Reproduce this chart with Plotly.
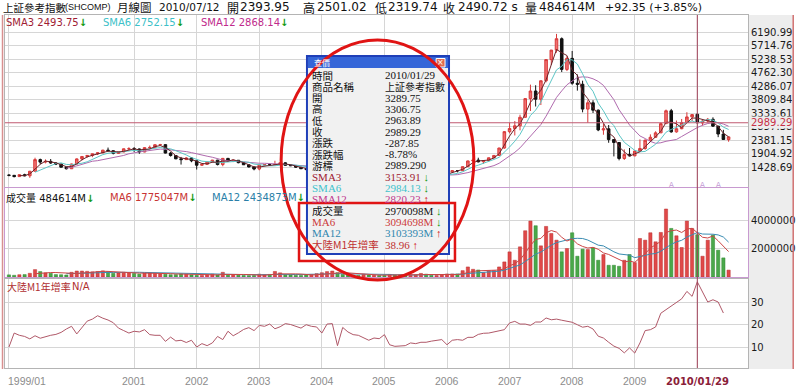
import plotly.graph_objects as go

# ---------------- data (monthly, 1999/01 .. 2010/07) ----------------
open_ = [1144,1134,1090,1158,1120,1279,1689,1601,1627,1569,1534,1421,
         1367,1535,1714,1800,1836,1894,1928,2023,2002,1910,1961,2070,
         2073,2065,1959,2112,2119,2214,2218,1920,1834,1717,1689,1747,
         1646,1491,1524,1603,1671,1515,1732,1651,1667,1581,1507,1430,
         1357,1499,1511,1510,1521,1576,1487,1476,1421,1367,1348,1397,
         1497,1590,1675,1742,1595,1555,1399,1386,1342,1396,1320,1340,
         1266,1191,1306,1181,1159,1060,1080,1083,1162,1155,1092,1099,
         1161,1258,1299,1298,1440,1642,1672,1612,1658,1752,1837,2099,
         2675,2786,2881,3183,3841,4109,3820,4471,5218,5552,5954,4871,
         5261,4383,4348,3472,3693,3433,2736,2775,2397,2293,1729,1871,
         1821,1991,2082,2373,2477,2633,2959,3412,2668,2779,2996,3195,
         3289.75,2982,3051,3110,2870,2593,2393.95]
high = [1166,1148,1163,1191,1290,1756,1724,1696,1710,1599,1541,1434,
        1545,1734,1808,1840,1899,1940,2033,2114,2018,1975,2080,2125,
        2131,2080,2128,2186,2230,2245,2226,1958,1848,1784,1776,1774,
        1651,1532,1614,1680,1681,1748,1749,1690,1672,1590,1515,1439,
        1512,1515,1548,1649,1579,1597,1531,1481,1428,1378,1411,1500,
        1600,1702,1760,1783,1620,1560,1415,1410,1496,1421,1375,1352,
        1268,1328,1316,1242,1163,1146,1087,1180,1224,1156,1114,1164,
        1267,1306,1304,1445,1655,1757,1757,1648,1762,1842,2105,2698,
        2994,3049,3274,3847,4335,4312,4480,5219,5560,6124,5999,5336,
        5522,4695,4473,3786,3786,3457,2952,2909,2400,2300,2051,2100,
        2012,2402,2403,2579,2689,2996,3455,3478,3068,3123,3361,3295,
        3306.75,3094,3158,3181,2877,2740,2501.02]
low = [1101,1064,1081,1102,1047,1270,1527,1556,1540,1496,1416,1341,
       1361,1526,1660,1760,1775,1852,1916,1993,1874,1892,1948,2020,
       1960,1893,1950,2065,2115,2180,1907,1795,1705,1514,1676,1597,
       1339,1466,1510,1580,1485,1455,1630,1600,1560,1500,1412,1311,
       1312,1476,1483,1507,1497,1472,1459,1393,1358,1307,1316,1387,
       1491,1585,1647,1580,1527,1395,1342,1328,1301,1313,1299,1259,
       1177,1186,1171,1135,1043,998,1004,1078,1140,1067,1074,1097,
       1153,1234,1238,1287,1436,1586,1589,1541,1629,1730,1833,2070,
       2617,2541,2723,3163,3404,3563,3615,4415,5030,5462,4778,4812,
       4330,4123,3357,2990,3333,2693,2566,2284,1802,1664,1679,1814,
       1814,1981,2037,2353,2455,2628,2955,2639,2639,2761,2990,3039,
       2963.89,2890,2996,2842,2481,2383,2319.74]
close = [1134,1090,1158,1120,1279,1689,1601,1627,1569,1534,1421,1367,
         1535,1714,1800,1836,1894,1928,2023,2002,1910,1961,2070,2073,
         2065,1959,2112,2119,2214,2218,1920,1834,1717,1689,1747,1646,
         1491,1524,1603,1671,1515,1732,1651,1667,1581,1507,1430,1357,
         1499,1511,1510,1521,1576,1487,1476,1421,1367,1348,1397,1497,
         1590,1675,1742,1595,1555,1399,1386,1342,1396,1320,1340,1266,
         1191,1306,1181,1159,1060,1080,1083,1162,1155,1092,1099,1161,
         1258,1299,1298,1440,1642,1672,1612,1658,1752,1837,2099,2675,
         2786,2881,3183,3841,4109,3820,4471,5218,5552,5954,4871,5261,
         4383,4348,3472,3693,3433,2736,2775,2397,2293,1729,1871,1821,
         1991,2082,2373,2477,2633,2959,3412,2668,2779,2996,3195,3277,
         2989.29,3051,3110,2870,2592.15,2398.37,2490.72]
volume = [150000,120000,160000,170000,260000,520000,380000,290000,260000,170000,160000,140000,
          330000,420000,420000,400000,360000,380000,430000,370000,260000,280000,330000,310000,
          250000,200000,280000,280000,260000,230000,190000,160000,170000,220000,200000,150000,
          120000,110000,160000,200000,150000,330000,180000,170000,130000,110000,100000,110000,
          200000,150000,180000,390000,290000,170000,160000,120000,110000,150000,180000,240000,
          300000,380000,420000,300000,180000,150000,120000,110000,190000,140000,130000,110000,
          110000,180000,140000,150000,130000,160000,150000,250000,200000,120000,110000,160000,
          212000,212000,212000,447000,706000,541000,494000,306000,447000,447000,706000,1059000,
          1765000,1176000,2118000,3247000,3929000,3600000,2188000,3553000,3059000,2588000,1765000,2000000,
          3106000,1459000,1953000,1929000,2047000,1176000,1576000,824000,824000,753000,1176000,1576000,
          1012000,2706000,2588000,3106000,2471000,3129000,4776000,3412000,2894000,2071000,3929000,3412000,
          2970098,1459000,2588000,2941000,1882000,1341000,484614]
m1_growth = [10.0,16.2,15.2,14.7,13.6,15.0,13.9,14.7,15.2,15.6,16.5,18.0,
             19.2,15.8,18.5,21.5,22.4,23.9,22.8,22.0,20.8,18.4,17.3,16.2,
             17.0,16.7,17.7,15.5,15.2,15.2,12.5,14.4,12.7,13.0,12.0,13.0,
             10.0,11.5,10.6,11.8,14.7,13.3,17.0,15.0,16.3,17.8,18.6,17.3,
             19.6,19.2,20.2,18.1,19.0,20.4,20.0,19.2,18.4,19.9,19.2,18.9,
             16.2,20.2,20.4,10.6,18.7,16.7,15.5,15.2,14.0,13.0,14.0,13.7,
             15.5,11.0,10.3,10.3,10.6,11.8,11.5,12.1,12.1,12.6,13.1,13.3,
             11.0,13.0,13.3,13.0,14.3,14.3,15.6,16.1,16.2,16.7,17.2,17.7,
             20.7,21.4,20.2,20.2,19.6,21.1,21.1,22.9,22.1,22.4,21.9,21.4,
             21.0,19.9,18.8,19.2,18.0,14.8,14.0,12.1,10.4,9.4,7.4,9.6,
             7.3,11.8,17.3,17.7,18.9,25.0,26.6,27.8,29.6,31.4,34.7,32.5,
             38.96,34.3,30.0,31.0,30.0,25.1,None]

tick_idx = [0, 24, 36, 48, 60, 72, 84, 96, 108, 120, 132]
tick_labels = ["1999/01", "2001", "2002", "2003", "2004", "2005", "2006",
               "2007", "2008", "2009", "2010/01/29"]
price_ticks = [1428.69, 1904.92, 2381.15, 2857.38, 3333.61, 3809.84,
               4286.07, 4762.30, 5238.53, 5714.76, 6190.99]
vol_ticks = [2000000, 4000000]
m1_ticks = [10, 20, 30]
event_idx = [127, 133, 136]
cursor_idx = 132
cursor_close = 2989.29

# header / popup texts as shown by the source software
header_price = [("SMA3", "2493.75"), ("SMA6", "2752.15"), ("SMA12", "2868.14")]
header_volume = [("成交量", "484614M"), ("MA6", "1775047M"), ("MA12", "2434873M")]
popup_rows = [
    ("時間", "2010/01/29", None),
    ("商品名稱", "上証參考指數", None),
    ("開", "3289.75", None),
    ("高", "3306.75", None),
    ("低", "2963.89", None),
    ("收", "2989.29", None),
    ("漲跌", "-287.85", None),
    ("漲跌幅", "-8.78%", None),
    ("游標", "2989.290", None),
    ("SMA3", "3153.91", False),
    ("SMA6", "2984.13", False),
    ("SMA12", "2820.23", True),
    ("成交量", "2970098M", False),
    ("MA6", "3094698M", False),
    ("MA12", "3103393M", True),
    ("大陸M1年增率", "38.96", True),
]

x = list(range(len(close)))


def sma(vals, n):
    return [None if i < n - 1 else sum(vals[i - n + 1:i + 1]) / n for i in range(len(vals))]


# ---------------- geometry helpers ----------------
W, H = 800, 389
ML, MR, MT, MB = 4, 48, 15, 21
PW, PH = W - ML - MR, H - MT - MB


def fx(px):
    return (px - ML) / PW


def fy(py):
    return 1 - (py - MT) / PH


CJK = "Noto Sans CJK TC"
SANS = "DejaVu Sans"
SERIF = "Liberation Serif"
GREEN = "#129a12"
RED_ARROW = "#d01818"

fig = go.Figure()

# ---- price panel ----
fig.add_trace(go.Candlestick(
    x=x, open=open_, high=high, low=low, close=close,
    increasing=dict(line=dict(color="#d83a3a", width=1), fillcolor="#ef7070"),
    decreasing=dict(line=dict(color="#111111", width=1), fillcolor="#111111"),
    whiskerwidth=0, hoverinfo="skip", xaxis="x", yaxis="y", showlegend=False))
fig.add_trace(go.Scatter(x=x, y=sma(close, 12), mode="lines", line=dict(color="#b06aae", width=1),
                         hoverinfo="skip", xaxis="x", yaxis="y", showlegend=False))
fig.add_trace(go.Scatter(x=x, y=sma(close, 6), mode="lines", line=dict(color="#5cc6c6", width=1),
                         hoverinfo="skip", xaxis="x", yaxis="y", showlegend=False))
fig.add_trace(go.Scatter(x=x, y=sma(close, 3), mode="lines", line=dict(color="#6a2228", width=1),
                         hoverinfo="skip", xaxis="x", yaxis="y", showlegend=False))

# ---- volume panel ----
vol_colors = ["#e04848" if c >= o else "#4aa84a" for o, c in zip(open_, close)]
vol_lines = ["#b83030" if c >= o else "#2f862f" for o, c in zip(open_, close)]
fig.add_trace(go.Bar(x=x, y=volume, width=0.62, marker=dict(color=vol_colors, line=dict(color=vol_lines, width=0.5)),
                     hoverinfo="skip", xaxis="x2", yaxis="y2", showlegend=False))
fig.add_trace(go.Scatter(x=x, y=sma(volume, 12), mode="lines", line=dict(color="#3a8cb2", width=1),
                         hoverinfo="skip", xaxis="x2", yaxis="y2", showlegend=False))
fig.add_trace(go.Scatter(x=x, y=sma(volume, 6), mode="lines", line=dict(color="#cc4545", width=1),
                         hoverinfo="skip", xaxis="x2", yaxis="y2", showlegend=False))

# ---- M1 panel ----
fig.add_trace(go.Scatter(x=x, y=m1_growth, mode="lines", line=dict(color="#b05868", width=1),
                         hoverinfo="skip", xaxis="x3", yaxis="y3", showlegend=False))

xr = [-0.76, 141.72]
grid = "#d6d6d6"
xcommon = dict(range=xr, tickvals=tick_idx, showticklabels=False, ticks="", showgrid=True,
               gridcolor=grid, gridwidth=1, zeroline=False, showline=True, mirror=True, fixedrange=True)
tickfont = dict(family=SANS, size=10, color="#1a1a1a")
ycommon = dict(side="right", showgrid=True, gridcolor=grid, zeroline=False, showline=True, mirror=True,
               ticks="", tickfont=tickfont, fixedrange=True)

fig.update_layout(
    width=W, height=H, margin=dict(l=ML, r=MR, t=MT, b=MB),
    paper_bgcolor="white", plot_bgcolor="white", hovermode=False, showlegend=False,
    xaxis=dict(**xcommon, anchor="y", linecolor="#b4b4b4", rangeslider=dict(visible=False)),
    xaxis2=dict(**xcommon, anchor="y2", matches="x", linecolor="#c89ad0"),
    xaxis3=dict(**xcommon, anchor="y3", matches="x", linecolor="#b4b4b4"),
    yaxis=dict(**ycommon, domain=[fy(187), 1], range=[723.2, 6790.7], tickvals=price_ticks,
               ticktext=["%.2f" % v for v in price_ticks], linecolor="#b4b4b4"),
    yaxis2=dict(**ycommon, domain=[fy(277), fy(188)], range=[0, 6250000], tickvals=vol_ticks,
                ticktext=[str(v) for v in vol_ticks], linecolor="#c89ad0"),
    yaxis3=dict(**ycommon, domain=[0, fy(279)], range=[0.67, 40.22], tickvals=m1_ticks,
                ticktext=[str(v) for v in m1_ticks], linecolor="#b4b4b4"),
)

shapes = []
shapes.append(dict(type="rect", xref="paper", yref="paper", x0=fx(753), x1=fx(797), y0=fy(369), y1=fy(15),
                   fillcolor="#ededed", line=dict(width=0), layer="below"))
shapes.append(dict(type="line", xref="paper", yref="paper", x0=fx(1.5), x1=fx(1.5), y0=fy(369), y1=fy(15),
                   line=dict(color="#d89090", width=1.5)))
shapes.append(dict(type="line", xref="paper", yref="paper", x0=fx(797.5), x1=fx(797.5), y0=fy(369), y1=fy(15),
                   line=dict(color="#d07070", width=1.5)))
shapes.append(dict(type="line", xref="x", yref="paper", x0=cursor_idx, x1=cursor_idx, y0=0, y1=1,
                   line=dict(color="#a04058", width=1)))
shapes.append(dict(type="line", xref="paper", yref="y", x0=0, x1=1, y0=cursor_close, y1=cursor_close,
                   line=dict(color="#c05a70", width=1)))
# popup window
shapes.append(dict(type="rect", xref="paper", yref="paper", x0=fx(308), x1=fx(451), y0=fy(254), y1=fy(56),
                   fillcolor="#f1f1f1", line=dict(color="#1f3fb8", width=2)))
shapes.append(dict(type="rect", xref="paper", yref="paper", x0=fx(309), x1=fx(450), y0=fy(68), y1=fy(57),
                   fillcolor="#3566d8", line=dict(width=0)))
shapes.append(dict(type="rect", xref="paper", yref="paper", x0=fx(438), x1=fx(447), y0=fy(67), y1=fy(58.5),
                   fillcolor="#e26a4e", line=dict(color="#ffffff", width=1)))
# red highlight box + ellipse
shapes.append(dict(type="rect", xref="paper", yref="paper", x0=fx(300), x1=fx(457), y0=fy(261), y1=fy(203),
                   line=dict(color="#e01414", width=2.5)))
shapes.append(dict(type="circle", xref="paper", yref="paper", x0=fx(282), x1=fx(476), y0=fy(280), y1=fy(40),
                   line=dict(color="#e01414", width=3)))
fig.update_layout(shapes=shapes)

ann = []


def txt(px, py, text, size=10, color="#111111", family=SANS, anchor="left"):
    ann.append(dict(xref="paper", yref="paper", x=fx(px), y=fy(py), text=text, showarrow=False,
                    xanchor=anchor, yanchor="middle", font=dict(family=family, size=size, color=color)))


def arrow(up):
    return "<span style='color:%s'><b>%s</b></span>" % (RED_ARROW if up else GREEN, "↑" if up else "↓")


# title row
txt(0, 7.5, "上証參考指數", 10.5, "#111", CJK)
txt(62, 7.5, "(SHCOMP)", 9, "#111", "Liberation Sans")
txt(115, 7.5, "月線圖", 11.5, "#111", CJK)
txt(157, 7.5, "2010/07/12", 10.5)
txt(225, 7.5, "開", 12, "#111", CJK)
txt(239, 7.5, "2393.95", 12)
txt(302, 7.5, "高", 12, "#111", CJK)
txt(316, 7.5, "2501.02", 12)
txt(374, 7.5, "低", 12, "#111", CJK)
txt(388, 7.5, "2319.74", 12)
txt(443, 7.5, "收", 12, "#111", CJK)
txt(458, 7.5, "2490.72 s", 12)
txt(525, 7.5, "量", 12, "#111", CJK)
txt(540, 7.5, "484614M", 12)
txt(606, 7.5, "+92.35 (+3.85%)", 11)

# price header
hp_x = [3, 101, 199]
hp_c = ["#a01c34", "#3cbfc8", "#c02a8c"]
for (n, v), px, col in zip(header_price, hp_x, hp_c):
    txt(px, 22.5, "%s %s" % (n, v) + arrow(False), 10, col)
# volume header
hv_x = [3, 108, 210]
hv_c = ["#111111", "#c83434", "#2a7fa8"]
for (n, v), px, col in zip(header_volume, hv_x, hv_c):
    name = "<span style='font-family:Noto Sans CJK TC'>%s</span>" % n if n == "成交量" else n
    txt(px, 197.5, "%s %s" % (name, v) + arrow(False), 10, col)
# M1 header
txt(4, 286.5, "大陸M1年增率", 10, "#b03030", CJK)
txt(69, 286.5, "N/A", 10, "#b03030")

for i in event_idx:
    ann.append(dict(xref="x", yref="paper", x=i, y=fy(184.5), text="A", showarrow=False,
                    xanchor="center", yanchor="middle", font=dict(family=SANS, size=7, color="#c49ad6")))

ann.append(dict(xref="paper", yref="y", x=1, y=cursor_close, xshift=2, text="%.2f" % cursor_close,
                showarrow=False, xanchor="left", yanchor="middle", bgcolor="#ededed", borderpad=0,
                font=dict(family=SANS, size=10, color="#c83048")))

for i, (idx, lab) in enumerate(zip(tick_idx, tick_labels)):
    if i == 0:
        ann.append(dict(xref="paper", yref="paper", x=fx(5), y=fy(381), text=lab, showarrow=False,
                        xanchor="left", yanchor="middle",
                        font=dict(family="Liberation Sans", size=10.5, color="#8c8c8c")))
    elif idx == cursor_idx:
        ann.append(dict(xref="x", yref="paper", x=idx, y=fy(381), text="<b>%s</b>" % lab, showarrow=False,
                        xanchor="center", yanchor="middle", font=dict(family=SANS, size=10, color="#8a2038")))
    else:
        ann.append(dict(xref="x", yref="paper", x=idx, y=fy(381), text=lab, showarrow=False,
                        xanchor="center", yanchor="middle",
                        font=dict(family="Liberation Sans", size=10.5, color="#8c8c8c")))

# popup contents
txt(313, 62.5, "查價", 8, "#ffffff", CJK)
txt(442.5, 62.5, "×", 8, "#ffffff", SANS, "center")
row_colors = ["#111"] * 9 + ["#a02030", "#40c2cc", "#c0388e", "#111", "#cc3a3a", "#2f86ae", "#c03030"]
for k, ((lab, val, up), col) in enumerate(zip(popup_rows, row_colors)):
    py = 75 + 11.3 * k
    fam = SERIF if lab.startswith(("SMA", "MA")) else CJK
    txt(311, py, lab, 11 if fam == SERIF else 10.5, col, fam)
    vfam = CJK if val == "上証參考指數" else SERIF
    vtext = val + ("" if up is None else " " + arrow(up))
    txt(385, py, vtext, 10 if vfam == CJK else 11, col, vfam)

fig.update_layout(annotations=ann)
fig.write_html("out.html", config={"displayModeBar": False, "staticPlot": True},
               post_script="document.body.style.margin='0';document.body.style.overflow='hidden';")
